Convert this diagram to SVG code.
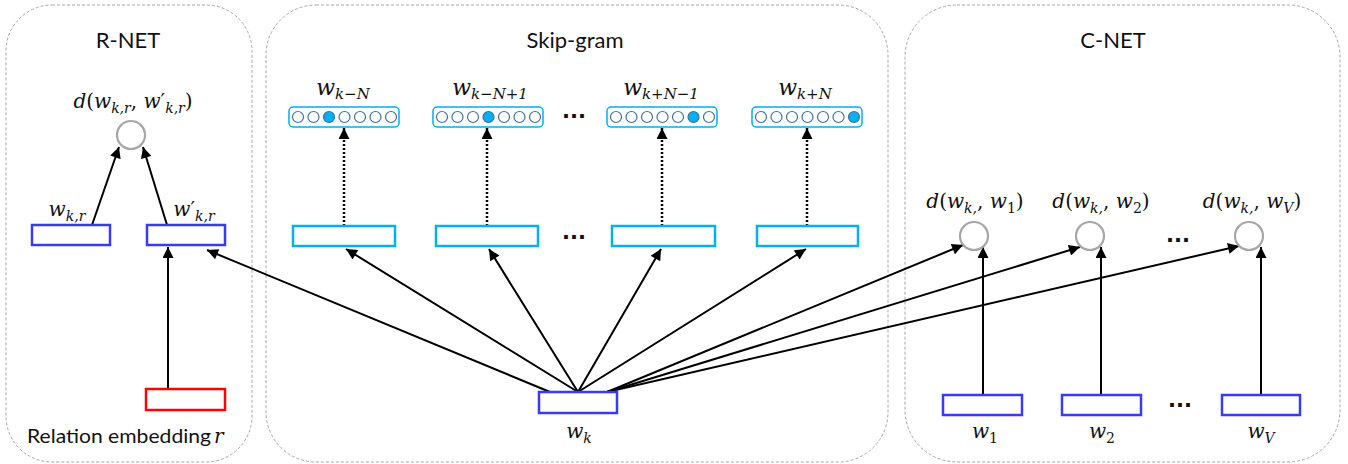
<svg xmlns="http://www.w3.org/2000/svg" width="1348" height="464" viewBox="0 0 1348 464">
<defs>
<style>
.panel{fill:#fff;stroke:#a6a6a6;stroke-width:1;stroke-dasharray:3 2}
.title{font-family:Lato,"Open Sans",sans-serif;font-size:22px;fill:#111;text-anchor:middle}
.lbl{font-family:Lato,"Open Sans",sans-serif;font-size:19px;fill:#111}
.m{font-family:"DejaVu Serif","Liberation Serif",serif;font-style:italic;font-size:20px;fill:#111}
.mc{text-anchor:middle}
.s{font-size:14px}
.u{font-style:normal}
.blue{fill:#fff;stroke:#3a3af5;stroke-width:2.5}
.red{fill:#fff;stroke:#ff0000;stroke-width:2.5}
.cyan{fill:#fff;stroke:#00b0f0;stroke-width:2.5}
.vec{fill:#fff;stroke:#00b0f0;stroke-width:1.5}
.oc{fill:#fff;stroke:#41719c;stroke-width:1.2}
.on{fill:#00b0f0;stroke:#41719c;stroke-width:1.2}
.gc{fill:#fff;stroke:#a6a6a6;stroke-width:2.2}
.arr{stroke:#000;stroke-width:2;fill:none;marker-end:url(#ah)}
.dot{stroke:#000;stroke-width:2.5;fill:none;stroke-dasharray:2 2;marker-end:url(#ah)}
.dots{font-family:"DejaVu Sans",sans-serif;font-size:21px;font-weight:bold;fill:#111;text-anchor:middle}
</style>
<marker id="ah" viewBox="0 0 10 10" refX="10" refY="5" markerWidth="12" markerHeight="11" markerUnits="userSpaceOnUse" orient="auto">
<path d="M0,0 L10,5 L0,10 z" fill="#000"/>
</marker>
</defs>
<rect width="1348" height="464" fill="#fff"/>

<g id="panels">
<rect id="rnet-panel" class="panel" x="6" y="5" width="246" height="457" rx="46" ry="46"/>
<rect id="skipgram-panel" class="panel" x="266" y="5" width="622" height="457" rx="50" ry="50"/>
<rect id="cnet-panel" class="panel" x="905" y="5" width="435" height="457" rx="52" ry="52"/>
<text class="title" x="128" y="48">R-NET</text>
<text class="title" x="575" y="48">Skip-gram</text>
<text class="title" x="1113" y="48">C-NET</text>
</g>

<g id="connectors">
<line class="arr" x1="92" y1="225" x2="119" y2="147"/>
<line class="arr" x1="167" y1="225" x2="143" y2="147"/>
<line class="arr" x1="168" y1="389" x2="168" y2="247"/>
<line class="arr" x1="550" y1="392" x2="207" y2="250"/>
<line class="arr" x1="578" y1="392" x2="346" y2="249"/>
<line class="arr" x1="578" y1="392" x2="489" y2="249"/>
<line class="arr" x1="578" y1="392" x2="661" y2="249"/>
<line class="arr" x1="578" y1="392" x2="806" y2="249"/>
<line class="dot" x1="344" y1="226" x2="344" y2="128"/>
<line class="dot" x1="487" y1="226" x2="487" y2="128"/>
<line class="dot" x1="662" y1="226" x2="662" y2="128"/>
<line class="dot" x1="807" y1="226" x2="807" y2="128"/>
<line class="arr" x1="607" y1="392" x2="963" y2="245"/>
<line class="arr" x1="607" y1="392" x2="1080" y2="247"/>
<line class="arr" x1="607" y1="392" x2="1239" y2="246"/>
<line class="arr" x1="983" y1="394" x2="983" y2="247"/>
<line class="arr" x1="1101" y1="394" x2="1101" y2="247"/>
<line class="arr" x1="1261" y1="394" x2="1261" y2="247"/>
</g>

<g id="rnet-distance">
<circle class="gc" cx="131" cy="135" r="14"/>
<text class="m mc" x="133" y="108">d<tspan class="u">(</tspan>w<tspan class="s" dy="5">k,r</tspan><tspan class="u" dy="-5">, </tspan>w<tspan class="u">′</tspan><tspan class="s" dy="5">k,r</tspan><tspan class="u" dy="-5">)</tspan></text>
</g>
<g id="rnet-wkr">
<rect class="blue" x="32" y="225" width="78" height="20"/>
<text class="m mc" x="67" y="216">w<tspan class="s" dy="5">k,r</tspan></text>
</g>
<g id="rnet-wkr-prime">
<rect class="blue" x="147" y="225" width="78" height="20"/>
<text class="m mc" x="194" y="216">w<tspan class="u">′</tspan><tspan class="s" dy="5">k,r</tspan></text>
</g>
<g id="relation-embedding">
<rect class="red" x="146" y="389" width="79" height="21"/>
<text class="lbl" x="27" y="443" textLength="184" lengthAdjust="spacingAndGlyphs">Relation embedding</text>
<text class="m" x="214" y="443">r</text>
</g>

<g id="out-k-minus-N">
<text class="m mc" x="343" y="95" style="font-size:22px">w<tspan class="s" style="font-size:15px" dy="4">k−N</tspan></text>
<rect class="vec" x="289" y="107" width="110" height="20" rx="4"/>
<circle class="oc" cx="298" cy="117" r="5.5"/><circle class="oc" cx="313.5" cy="117" r="5.5"/><circle class="on" cx="329" cy="117" r="5.5"/><circle class="oc" cx="344.5" cy="117" r="5.5"/><circle class="oc" cx="360" cy="117" r="5.5"/><circle class="oc" cx="375.5" cy="117" r="5.5"/><circle class="oc" cx="391" cy="117" r="5.5"/>
</g>
<g id="out-k-minus-N-plus-1">
<text class="m mc" x="490" y="95" style="font-size:22px">w<tspan class="s" style="font-size:15px" dy="4">k−N+1</tspan></text>
<rect class="vec" x="433" y="107" width="110" height="20" rx="4"/>
<circle class="oc" cx="442" cy="117" r="5.5"/><circle class="oc" cx="457.5" cy="117" r="5.5"/><circle class="oc" cx="473" cy="117" r="5.5"/><circle class="on" cx="488.5" cy="117" r="5.5"/><circle class="oc" cx="504" cy="117" r="5.5"/><circle class="oc" cx="519.5" cy="117" r="5.5"/><circle class="oc" cx="535" cy="117" r="5.5"/>
</g>
<g id="out-k-plus-N-minus-1">
<text class="m mc" x="661" y="95" style="font-size:22px">w<tspan class="s" style="font-size:15px" dy="4">k+N−1</tspan></text>
<rect class="vec" x="607" y="107" width="110" height="20" rx="4"/>
<circle class="oc" cx="616" cy="117" r="5.5"/><circle class="oc" cx="631.5" cy="117" r="5.5"/><circle class="oc" cx="647" cy="117" r="5.5"/><circle class="oc" cx="662.5" cy="117" r="5.5"/><circle class="oc" cx="678" cy="117" r="5.5"/><circle class="on" cx="693.5" cy="117" r="5.5"/><circle class="oc" cx="709" cy="117" r="5.5"/>
</g>
<g id="out-k-plus-N">
<text class="m mc" x="805" y="95" style="font-size:22px">w<tspan class="s" style="font-size:15px" dy="4">k+N</tspan></text>
<rect class="vec" x="752" y="107" width="110" height="20" rx="4"/>
<circle class="oc" cx="761" cy="117" r="5.5"/><circle class="oc" cx="776.5" cy="117" r="5.5"/><circle class="oc" cx="792" cy="117" r="5.5"/><circle class="oc" cx="807.5" cy="117" r="5.5"/><circle class="oc" cx="823" cy="117" r="5.5"/><circle class="oc" cx="838.5" cy="117" r="5.5"/><circle class="on" cx="854" cy="117" r="5.5"/>
</g>
<text class="dots" x="574" y="123">···</text>

<g id="hidden-1"><rect class="cyan" x="293" y="226" width="102" height="20"/></g>
<g id="hidden-2"><rect class="cyan" x="436" y="226" width="102" height="20"/></g>
<g id="hidden-3"><rect class="cyan" x="612" y="226" width="103" height="20"/></g>
<g id="hidden-4"><rect class="cyan" x="757" y="226" width="101" height="20"/></g>
<text class="dots" x="574" y="244">···</text>

<g id="wk">
<rect class="blue" x="539" y="392" width="78" height="21"/>
<text class="m mc" x="579" y="438">w<tspan class="s" dy="5">k</tspan></text>
</g>

<g id="d1">
<circle class="gc" cx="974" cy="236" r="14"/>
<text class="m mc" x="975" y="208">d<tspan class="u">(</tspan>w<tspan class="s" dy="5">k,</tspan><tspan class="u" dy="-5">,</tspan> w<tspan class="s u" dy="5">1</tspan><tspan class="u" dy="-5">)</tspan></text>
</g>
<g id="d2">
<circle class="gc" cx="1090" cy="236" r="14"/>
<text class="m mc" x="1101" y="208">d<tspan class="u">(</tspan>w<tspan class="s" dy="5">k,</tspan><tspan class="u" dy="-5">,</tspan> w<tspan class="s u" dy="5">2</tspan><tspan class="u" dy="-5">)</tspan></text>
</g>
<g id="dV">
<circle class="gc" cx="1249" cy="236" r="14"/>
<text class="m mc" x="1252" y="208">d<tspan class="u">(</tspan>w<tspan class="s" dy="5">k,</tspan><tspan class="u" dy="-5">,</tspan> w<tspan class="s" dy="5">V</tspan><tspan class="u" dy="-5">)</tspan></text>
</g>
<text class="dots" x="1178" y="247">···</text>

<g id="w1">
<rect class="blue" x="943" y="395" width="79" height="20"/>
<text class="m mc" x="985" y="438">w<tspan class="s u" dy="5">1</tspan></text>
</g>
<g id="w2">
<rect class="blue" x="1062" y="395" width="79" height="20"/>
<text class="m mc" x="1102" y="438">w<tspan class="s u" dy="5">2</tspan></text>
</g>
<g id="wV">
<rect class="blue" x="1222" y="395" width="78" height="20"/>
<text class="m mc" x="1261" y="438">w<tspan class="s" dy="5">V</tspan></text>
</g>
<text class="dots" x="1180" y="412">···</text>
</svg>
